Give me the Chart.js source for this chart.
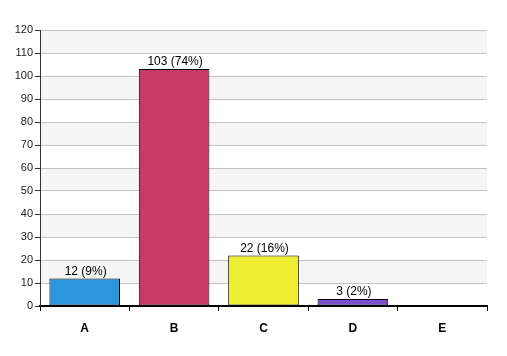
<!DOCTYPE html>
<html><head><meta charset="utf-8">
<script src="https://cdn.jsdelivr.net/npm/chart.js@4"></script>
<style>html,body{margin:0;padding:0;background:#fff}#wrap{width:507px;height:356px}</style>
</head><body><div id="wrap"><canvas id="c" width="507" height="356"></canvas></div>
<script>
const categories = ['A', 'B', 'C', 'D', 'E'];
const values = [12, 103, 22, 3, 0];
const percents = ['9%', '74%', '16%', '2%', ''];
const barColors = ['#2b96db', '#c73967', '#eeee33', '#7c4fca', '#888888'];
const yTicksMax = 120;
const yStep = 10;

const bandPlugin = {
  id: 'bands',
  beforeDraw(chart) {
    const {ctx, chartArea, scales: {y}} = chart;
    ctx.save();
    ctx.fillStyle = '#f5f5f5';
    for (let v = yStep; v < yTicksMax; v += 2 * yStep) {
      const t = y.getPixelForValue(v + yStep), b = y.getPixelForValue(v);
      ctx.fillRect(chartArea.left, t, chartArea.right - chartArea.left, b - t);
    }
    ctx.restore();
  }
};
const labelPlugin = {
  id: 'vlabels',
  afterDatasetsDraw(chart) {
    const {ctx} = chart;
    const meta = chart.getDatasetMeta(0);
    ctx.save();
    ctx.font = '12px "Liberation Sans", Arial, sans-serif';
    ctx.fillStyle = '#000';
    ctx.textAlign = 'center';
    ctx.textBaseline = 'bottom';
    meta.data.forEach((bar, i) => {
      if (!values[i]) return;
      ctx.fillText(values[i] + ' (' + percents[i] + ')', bar.x + 1, bar.y - 1);
    });
    ctx.restore();
  }
};

new Chart(document.getElementById('c'), {
  type: 'bar',
  data: {
    labels: categories,
    datasets: [{
      data: values,
      backgroundColor: barColors,
      borderColor: '#000',
      borderWidth: 1,
      borderSkipped: false,
      categoryPercentage: 1,
      barPercentage: 0.79
    }]
  },
  options: {
    responsive: false,
    animation: false,
    devicePixelRatio: 1,
    layout: {padding: {top: 30, right: 20, left: 0, bottom: 0}},
    plugins: {legend: {display: false}, tooltip: {enabled: false}},
    scales: {
      x: {
        afterFit(s) { s.height = 50; },
        grid: {offset: true, drawOnChartArea: false, drawTicks: true, tickLength: 5, tickColor: '#000'},
        border: {color: '#000', width: 2},
        ticks: {color: '#000', padding: 10, font: {family: '"Liberation Sans", Arial, sans-serif', size: 12, weight: 'bold'}}
      },
      y: {
        min: 0, max: yTicksMax,
        afterFit(s) { s.width = 40; },
        grid: {color: '#c4c4c4', drawTicks: true, tickLength: 5, tickColor: '#333'},
        border: {color: '#333', width: 1},
        ticks: {stepSize: yStep, color: '#222', padding: 2, font: {family: '"Liberation Sans", Arial, sans-serif', size: 11}}
      }
    }
  },
  plugins: [bandPlugin, labelPlugin]
});
</script></body></html>
